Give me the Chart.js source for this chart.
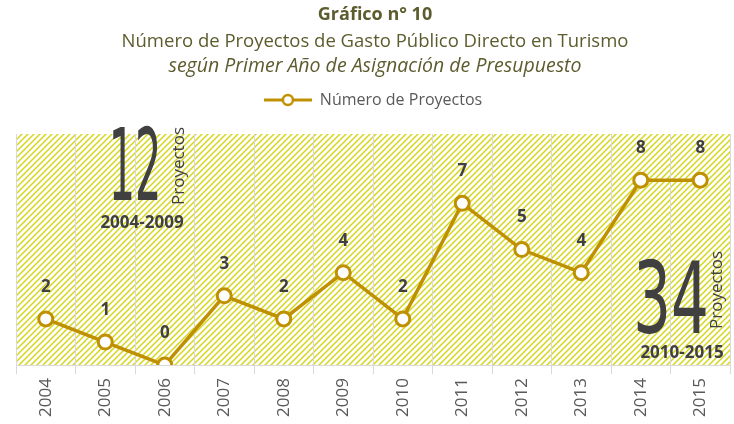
<!DOCTYPE html>
<html>
<head>
<meta charset="utf-8">
<script src="https://cdn.jsdelivr.net/npm/chart.js@4.4.1/dist/chart.umd.min.js"></script>
<style>
  html, body { margin: 0; padding: 0; background: #fff; }
  #wrap { width: 734px; height: 424px; position: relative; }
</style>
</head>
<body>
<div id="wrap"><canvas id="chart" width="734" height="424"></canvas></div>
<script>
/* ================= DATA ================= */
const years = ["2004", "2005", "2006", "2007", "2008", "2009",
               "2010", "2011", "2012", "2013", "2014", "2015"];
const proyectos = [2, 1, 0, 3, 2, 4, 2, 7, 5, 4, 8, 8];
const seriesName = "Número de Proyectos";
const titleLines = [
  "Gráfico n° 10",
  "Número de Proyectos de Gasto Público Directo en Turismo",
  "según Primer Año de Asignación de Presupuesto"
];
const periodTotals = ["12", "34"];
const periodLabels = ["2004-2009", "2010-2015"];

const GOLD = "#bf9000";
const DARK = "#404040";
const FONT = "'Open Sans', sans-serif";

/* ================= HATCH PATTERN ================= */
function makeHatch() {
  const t = document.createElement("canvas");
  t.width = 6; t.height = 6;
  const c = t.getContext("2d");
  c.strokeStyle = "#d6d61e";
  c.lineWidth = 1.5;
  c.beginPath();
  c.moveTo(-1, 7); c.lineTo(7, -1);
  c.moveTo(-1, 1); c.lineTo(1, -1);
  c.moveTo(5, 7); c.lineTo(7, 5);
  c.stroke();
  return t;
}

/* ================= LEGEND ICON ================= */
function makeLegendIcon() {
  const t = document.createElement("canvas");
  t.width = 48; t.height = 14;
  const c = t.getContext("2d");
  c.strokeStyle = GOLD;
  c.lineWidth = 3;
  c.beginPath(); c.moveTo(0, 7); c.lineTo(48, 7); c.stroke();
  c.beginPath(); c.arc(24, 7, 5, 0, Math.PI * 2);
  c.fillStyle = "#fff"; c.fill();
  c.lineWidth = 2.5; c.stroke();
  return t;
}

/* ================= PLUGINS ================= */
// leave some room between the legend and the plot area
const legendGap = {
  id: "legendGap",
  beforeInit(chart) {
    const fit = chart.legend.fit;
    chart.legend.fit = function () {
      fit.call(this);
      this.height += 16;
    };
  }
};

const background = {
  id: "background",
  beforeDraw(chart) {
    const { ctx, chartArea: a } = chart;
    ctx.save();
    ctx.fillStyle = ctx.createPattern(makeHatch(), "repeat");
    ctx.fillRect(a.left, a.top, a.right - a.left, a.bottom - a.top);
    ctx.restore();
  }
};

const titles = {
  id: "titles",
  afterDraw(chart) {
    const ctx = chart.ctx;
    const cx = 375;
    ctx.save();
    ctx.fillStyle = "#5c5c2e";
    ctx.textAlign = "center";
    ctx.textBaseline = "middle";
    ctx.font = "bold 18px " + FONT;
    ctx.fillText(titleLines[0], cx, 15);
    ctx.font = "18.5px " + FONT;
    ctx.fillText(titleLines[1], cx, 42);
    ctx.font = "italic 19.5px " + FONT;
    ctx.fillText(titleLines[2], cx, 66);
    ctx.restore();
  }
};

const valueLabels = {
  id: "valueLabels",
  afterDatasetsDraw(chart) {
    const ctx = chart.ctx;
    const meta = chart.getDatasetMeta(0);
    ctx.save();
    ctx.fillStyle = DARK;
    ctx.font = "bold 17px " + FONT;
    ctx.textAlign = "center";
    ctx.textBaseline = "middle";
    meta.data.forEach((pt, i) => {
      ctx.fillText(String(proyectos[i]), pt.x, pt.y - 32);
    });
    ctx.restore();
  }
};

const periods = {
  id: "periods",
  afterDatasetsDraw(chart) {
    const ctx = chart.ctx;
    ctx.save();
    ctx.fillStyle = DARK;
    ctx.textAlign = "center";

    // big totals
    ctx.textBaseline = "alphabetic";
    ctx.font = "100px 'Liberation Sans Narrow', 'DejaVu Sans Condensed', sans-serif";
    ctx.save(); ctx.translate(135, 200); ctx.scale(0.46, 1);
    ctx.fillText(periodTotals[0], 0, 0); ctx.restore();
    ctx.save(); ctx.translate(671, 333); ctx.scale(0.66, 1);
    ctx.fillText(periodTotals[1], 0, 0); ctx.restore();

    // "Proyectos" vertical
    ctx.textBaseline = "middle";
    ctx.font = "17px " + FONT;
    ctx.save(); ctx.translate(179, 166); ctx.rotate(-Math.PI / 2);
    ctx.fillText("Proyectos", 0, 0); ctx.restore();
    ctx.save(); ctx.translate(717, 290); ctx.rotate(-Math.PI / 2);
    ctx.fillText("Proyectos", 0, 0); ctx.restore();

    // period ranges
    ctx.font = "bold 17px " + FONT;
    ctx.fillText(periodLabels[0], 142, 223);
    ctx.fillText(periodLabels[1], 682, 353);
    ctx.restore();
  }
};

/* ================= CHART ================= */
new Chart(document.getElementById("chart"), {
  type: "line",
  data: {
    labels: years,
    datasets: [{
      label: seriesName,
      data: proyectos,
      borderColor: GOLD,
      borderWidth: 3.5,
      pointRadius: 7,
      pointBorderWidth: 3,
      pointBackgroundColor: "#fff",
      pointBorderColor: GOLD,
      tension: 0
    }]
  },
  options: {
    responsive: false,
    animation: false,
    layout: { autoPadding: false, padding: { top: 68, left: 16, right: 4, bottom: 3 } },
    plugins: {
      tooltip: { enabled: false },
      legend: {
        display: true,
        position: "top",
        labels: {
          usePointStyle: true,
          pointStyle: makeLegendIcon(),
          pointStyleWidth: 48,
          color: "#595959",
          font: { family: FONT, size: 16 },
          padding: 24
        }
      }
    },
    scales: {
      x: {
        offset: true,
        grid: {
          offset: true,
          color: "#d9d9d9",
          lineWidth: 1,
          tickLength: 9
        },
        border: { color: "#d9d9d9" },
        ticks: {
          color: "#595959",
          font: { family: FONT, size: 17 },
          minRotation: 90,
          maxRotation: 90,
          padding: 4
        }
      },
      y: {
        display: false,
        min: 0,
        max: 10
      }
    }
  },
  plugins: [legendGap, background, titles, valueLabels, periods]
});
</script>
</body>
</html>
